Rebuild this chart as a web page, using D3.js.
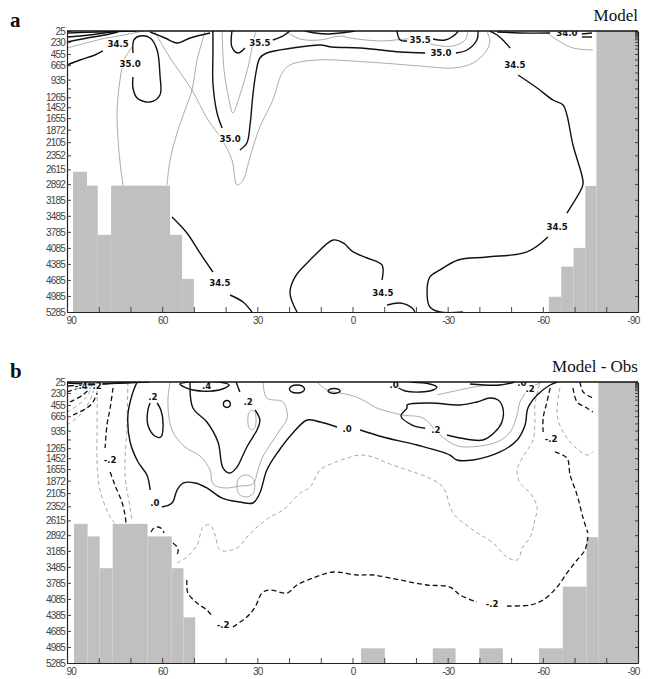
<!DOCTYPE html>
<html>
<head>
<meta charset="utf-8">
<script src="https://cdn.jsdelivr.net/npm/d3@7"></script>
<style>
	body { margin: 0; background: white; }
	#outer { width: 659px; height: 679px; }
</style>
</head>
<body>
<div id="outer"></div>
<script>
////////// DATA //////////
// depth axis (m), latitude axis (deg)
const depthLabels = [25, 230, 455, 665, 935, 1265, 1452, 1655, 1872, 2105, 2352, 2615, 2892, 3185, 3485, 3785, 4085, 4385, 4685, 4985, 5285];
const depthExtraTicks = [1100];
const rightTickDepths = [25, 45, 65, 85, 105, 125, 150, 180, 230, 290, 355, 455, 560, 665, 800, 935, 1100, 1265, 1452, 1655, 1872, 2105, 2352, 2615, 2892, 3185, 3485, 3785, 4085, 4385, 4685, 4985, 5285];
const latTicks = [90, 80, 70, 60, 50, 40, 30, 20, 10, 0, -10, -20, -30, -40, -50, -60, -70, -80, -90];
const latLabels = [90, 60, 30, 0, -30, -60, -90];

// topography columns: [lat from, lat to, depth of top]
const topoModel = [
	[88.1, 83.7, 2660], [83.7, 80.3, 2920], [80.3, 76.1, 3840], [76.1, 57.5, 2920], [57.5, 53.7, 3840], [53.7, 50.0, 4665],
	[-61.9, -65.8, 5000], [-65.8, -69.7, 4435], [-69.7, -73.4, 4085], [-73.4, -76.9, 2925], [-76.9, -90, 25]
];
const topoDiff = [
	[87.8, 83.5, 2680], [83.5, 79.7, 2915], [79.7, 75.6, 3510], [75.6, 64.6, 2680], [64.6, 57.0, 2915], [57.0, 53.3, 3510], [53.3, 49.6, 4430],
	[-2.7, -10.2, 5010], [-25.3, -32.5, 5010], [-40.0, -47.4, 5010], [-58.8, -66.3, 5010],
	[-66.3, -73.8, 3855], [-73.8, -77.5, 2930], [-77.5, -90, 25]
];

// panel a : salinity contours [lat, depth]
const modelBlack = [
	[[90, 62], [80, 44], [68, 25]],
	[[90, 137], [83, 100], [76, 44], [72, 25]],
	[[90, 231], [84, 160], [78, 100], [74, 44]],
	[[90, 661], [85.9, 568], [81.2, 474], [78.7, 399]],
	[[69.2, 437], [68.9, 193], [67.0, 119], [63.8, 156], [61.6, 381], [60.7, 849], [60.7, 1223], [63.8, 1354], [67.9, 1279], [69.2, 1092], [69.2, 886]],
	[[63.8, 44], [59.1, 156], [55.3, 250], [51.2, 156], [44.9, 62]],
	[[44.0, 25], [44.0, 474], [44.0, 998], [42.7, 1560], [41.1, 1841]],
	[[35.5, 2253], [33.3, 2122], [32.3, 1785], [31.4, 1223], [30.4, 793], [29.2, 530], [27.0, 437], [18.8, 343], [10.2, 287], [6.5, 325], [-2.4, 343], [-15.0, 418], [-22.9, 437]],
	[[-32.6, 437], [-36.1, 381], [-39.2, 193], [-39.6, 25]],
	[[38.0, 25], [38.0, 325], [36.1, 437], [33.9, 343]],
	[[25.1, 193], [22.0, 119], [19.7, 25]],
	[[15.0, 25], [11.8, 62], [8.0, 81], [3.9, 62], [-0.8, 25]],
	[[-14.0, 25], [-15.0, 193], [-17.2, 212]],
	[[-25.4, 175], [-29.2, 193], [-32.9, 62], [-33.3, 25]],
	[[-45.6, 44], [-52.8, 62], [-62.3, 62]],
	[[-72.3, 81], [-75.5, 62]],
	[[-72.3, 137], [-75.5, 137]],
	[[-43.3, 25], [-45.6, 100], [-47.4, 193], [-49.7, 343]],
	[[-52.2, 849], [-58.2, 1092], [-63.2, 1317], [-66.4, 1410], [-67.6, 1597], [-69.5, 2159], [-72.3, 2721], [-72.7, 2871], [-72.3, 2964], [-67.6, 3432]],
	[[-61.6, 3881], [-55.0, 4161], [-42.4, 4255], [-33.3, 4311], [-27.6, 4498], [-24.4, 4629], [-23.5, 4929], [-24.4, 5191], [-27.6, 5285], [-34.8, 5285]],
	[[56.9, 3507], [52.2, 3806], [48.1, 4180], [44.0, 4536]],
	[[38.6, 4967], [34.5, 5098], [31.7, 5285]],
	[[17.5, 5285], [19.7, 4929], [18.1, 4629], [14.3, 4367], [11.8, 4217], [6.1, 3937], [2.9, 3993], [-0.2, 4161], [-4.6, 4274], [-9.3, 4405], [-9.3, 4686]],
	[[-10.9, 5154], [-15.0, 5117], [-18.8, 5210], [-19.7, 5285]]
];
const modelGray = [
	[[90, 343], [84, 250], [78, 160], [72, 100], [66, 25]],
	[[62.3, 44], [57.5, 530], [50.6, 1130], [45.9, 1654], [41.1, 2065], [38.0, 2440], [36.4, 2908], [34.5, 2814], [32.3, 2384], [29.2, 1822], [25.1, 1317], [22.2, 811], [19.7, 661], [11.2, 568], [-4.6, 605], [-21.3, 680], [-31.7, 718], [-38.0, 624], [-42.4, 381], [-43.3, 193], [-42.4, 44]],
	[[46.5, 44], [49.0, 568], [50.6, 1130], [52.8, 1504], [55.3, 1934], [57.5, 2440], [58.5, 2908]],
	[[69.5, 325], [72.0, 568], [73.3, 942], [74.2, 1504], [73.9, 2065], [73.0, 2627], [72.3, 2927]],
	[[41.1, 25], [40.5, 755], [38.9, 1317], [37.7, 1560], [35.5, 1223], [32.9, 699], [31.4, 250], [30.4, 25]],
	[[21.3, 25], [16.5, 175], [10.2, 193], [3.9, 119], [0.8, 156], [-9.0, 212], [-19.7, 175], [-26.0, 287], [-31.7, 306], [-35.5, 193], [-36.4, 25]],
	[[-60.7, 25], [-64.5, 193], [-69.5, 343], [-75.8, 381]]
];
const modelLabels = [
	{ text: '34.5', lat: 73.9, depth: 268 }, { text: '35.0', lat: 70.1, depth: 643 },
	{ text: '35.5', lat: 29.2, depth: 250 }, { text: '35.0', lat: 38.6, depth: 2047 },
	{ text: '35.5', lat: -21.3, depth: 193 }, { text: '35.0', lat: -27.9, depth: 437 },
	{ text: '34.0', lat: -67.6, depth: 62 }, { text: '34.5', lat: -51.2, depth: 661 },
	{ text: '34.5', lat: -64.5, depth: 3694 }, { text: '34.5', lat: 41.8, depth: 4742 },
	{ text: '34.5', lat: -9.6, depth: 4929 }
];

// panel b : model - obs contours [lat, depth]
const diffBlack = [
	[[67.9, 25], [69.5, 268], [70.8, 643], [70.1, 1148], [67.6, 1523], [64.8, 1766], [63.8, 2047]],
	[[60.1, 2365], [56.9, 2290], [55.3, 2047], [53.4, 1916], [49.6, 1916], [45.9, 2009], [41.1, 2197], [35.5, 2271], [31.4, 2290], [29.2, 2103], [27.0, 1672], [23.5, 1335], [18.8, 980], [14.3, 736], [10.2, 774], [4.9, 867]],
	[[-2.4, 924], [-9.6, 1055], [-20.3, 1204], [-30.7, 1392], [-32.9, 1485], [-38.0, 1485], [-46.5, 1335], [-51.9, 1111], [-54.4, 830], [-55.3, 512], [-58.2, 268], [-62.3, 81], [-64.5, 25]],
	[[63.8, 418], [64.5, 549], [64.5, 830], [62.3, 1036], [60.4, 1055], [59.7, 830], [60.4, 549], [61.6, 418]],
	[[51.2, 25], [50.3, 512], [45.9, 774], [42.4, 1148], [40.8, 1635], [38.6, 1729], [36.4, 1616], [34.8, 1429], [33.3, 1242], [31.4, 1055], [30.1, 924], [29.2, 736], [30.7, 549]],
	[[35.5, 212], [36.7, 25]],
	[[54.4, 62], [50.3, 25], [42.0, 25], [38.9, 81], [42.0, 175], [50.3, 175], [54.4, 62]],
	[[40.7, 437], [40.4, 484], [39.6, 502], [38.8, 484], [38.5, 437], [38.8, 390], [39.6, 372], [40.4, 390], [40.7, 437]],
	[[19.9, 156], [19.2, 210], [17.5, 231], [15.8, 210], [15.1, 156], [15.8, 102], [17.5, 81], [19.2, 102], [19.9, 156]],
	[[7.7, 193], [7.1, 226], [5.8, 240], [4.5, 226], [3.9, 193], [4.5, 160], [5.8, 146], [7.1, 160], [7.7, 193]],
	[[-14.0, 119], [-16.6, 193], [-21.3, 212], [-25.4, 175], [-26.6, 119], [-24.4, 62], [-18.2, 25]],
	[[-37.0, 62], [-46.5, 81], [-51.2, 25]],
	[[-29.8, 1017], [-33.9, 1073], [-41.1, 1111], [-44.9, 961], [-47.1, 774], [-47.4, 512], [-45.9, 362], [-43.3, 325], [-39.2, 399], [-33.9, 456], [-24.4, 418], [-17.2, 456], [-17.2, 512], [-15.3, 661], [-18.8, 830], [-22.9, 890]],
	[[90, 44], [82, 62], [74, 44], [66, 25]],
	[[90, 100], [84, 81], [78, 62], [72, 44], [64, 25]]
];
const diffGray = [
	[[57.5, 25], [58.2, 399], [56.9, 924], [52.8, 1242], [48.1, 1410], [44.9, 1672], [44.0, 1934], [40.2, 2009], [35.5, 1972], [31.4, 1934], [29.8, 1672], [28.5, 1448], [26.0, 1204], [22.9, 924], [20.6, 699], [21.9, 399], [27.0, 325], [28.2, 25]],
	[[11.2, 25], [8.0, 175], [0.8, 268], [-3.3, 362], [-7.7, 512], [-15.9, 643], [-22.2, 699], [-27.6, 1017], [-32.3, 1204], [-36.1, 1242], [-45.6, 1148], [-49.7, 961], [-51.9, 643], [-52.8, 399], [-56.0, 137], [-60.1, 25]],
	[[-26.6, 268], [-32.3, 193], [-40.2, 100], [-46.5, 81], [-50.3, 25]],
	[[33.0, 736], [32.6, 880], [31.7, 920], [30.8, 880], [30.4, 736], [30.8, 592], [31.7, 552], [32.6, 592], [33.0, 736]],
	[[36.4, 1972], [35.8, 2120], [33.6, 2178], [31.4, 2120], [30.8, 1972], [31.4, 1824], [33.6, 1766], [35.8, 1824], [36.4, 1972]]
];
const diffBlackDash = [
	[[75.5, 137], [76.4, 512], [77.4, 830], [78.0, 1261]],
	[[76.4, 1710], [74.9, 1953], [72.7, 2271], [71.7, 2515], [71.4, 2665]],
	[[88.1, 643], [83.7, 512], [81.8, 399], [80.5, 231]],
	[[89.1, 399], [85.0, 268], [82.7, 137]],
	[[90, 212], [86.5, 137], [84.0, 44]],
	[[63.5, 2833], [62.6, 2758], [61.3, 2739], [60.1, 2777], [59.4, 2852]],
	[[56.6, 3039], [55.3, 3114], [55.0, 3208], [56.0, 3282]],
	[[52.2, 3732], [51.9, 3975], [49.0, 4162], [45.9, 4293], [44.0, 4424]],
	[[37.7, 4611], [33.3, 4424], [30.7, 4237], [28.5, 3975], [26.0, 3919], [20.6, 3975], [17.5, 3825], [12.4, 3694], [6.1, 3582], [-1.4, 3638], [-6.5, 3638], [-15.0, 3732], [-23.5, 3825], [-30.7, 3863], [-33.9, 4012], [-39.2, 4143]],
	[[-48.7, 4218], [-56.0, 4199], [-60.1, 4106], [-64.5, 3863], [-67.6, 3601], [-70.8, 3357], [-73.3, 3170], [-74.2, 2927]],
	[[-62.3, 137], [-61.3, 399], [-60.1, 699], [-60.1, 961]],
	[[-63.8, 1335], [-67.6, 1448], [-68.6, 1766], [-70.8, 2140], [-72.7, 2571], [-74.2, 2852]],
	[[-69.5, 137], [-70.8, 399], [-73.9, 512], [-75.8, 587]],
	[[-71.7, 25], [-72.7, 212], [-75.8, 325]]
];
const diffGrayDash = [
	[[80.5, 175], [80.5, 830], [80.5, 1541], [79.6, 2047], [76.4, 2552], [74.9, 2665]],
	[[70.8, 25], [71.1, 830], [71.7, 1766], [70.1, 2384], [69.5, 2646]],
	[[90, 830], [85.9, 643], [82.7, 362], [81.2, 81]],
	[[90, 587], [86.5, 456], [83.4, 268], [82.1, 62]],
	[[55.3, 3413], [52.2, 3301], [49.0, 3076], [47.1, 2739], [44.9, 2702], [43.3, 2889], [41.8, 3170], [36.4, 3133], [33.3, 2927], [30.1, 2739], [26.0, 2552], [21.9, 2421], [16.5, 2103], [13.4, 1991], [10.2, 1672], [6.1, 1541], [1.7, 1448], [-2.4, 1392], [-6.5, 1429], [-10.9, 1541], [-17.2, 1672], [-23.5, 1803], [-28.5, 1991], [-31.7, 2477], [-38.0, 2796], [-44.3, 3039], [-48.7, 3301], [-51.9, 3357], [-53.7, 3114], [-56.0, 2927], [-57.5, 2608], [-58.2, 2365], [-56.0, 2103], [-52.8, 1916], [-51.9, 1672], [-53.7, 1429], [-56.9, 1111], [-57.5, 793], [-57.5, 456], [-58.5, 175], [-59.1, 25]],
	[[-65.4, 137], [-64.5, 643], [-66.4, 961], [-69.5, 1204], [-73.9, 1392], [-75.8, 1335]]
];
const diffLabels = [
	{ text: '-.4', lat: 85.5, depth: 90 }, { text: '.2', lat: 80.5, depth: 100 },
	{ text: '.2', lat: 62.9, depth: 300 }, { text: '-.2', lat: 76.4, depth: 1485 },
	{ text: '.0', lat: 62.3, depth: 2290 }, { text: '.4', lat: 46.0, depth: 100 },
	{ text: '.2', lat: 32.9, depth: 400 }, { text: '.0', lat: 1.7, depth: 905 },
	{ text: '.0', lat: -13.1, depth: 81 }, { text: '.2', lat: -26.3, depth: 924 },
	{ text: '.0', lat: -53.4, depth: 44 }, { text: '.2', lat: -56.0, depth: 156 },
	{ text: '-.2', lat: -62.6, depth: 1092 }, { text: '-.2', lat: 40.8, depth: 4574 },
	{ text: '-.2', lat: -44.0, depth: 4181 }
];

function drawChart () {
	////////// Hard Coded Defs //////////
	const width = 659, height = 679;
	const plotLeft = 67, plotRight = 638, plotHeight = 281;
	const topoColor = 'rgb(192,192,192)';
	const tickFont = '10px "Liberation Sans", Arial, sans-serif';
	const contourStyles = {
		black: { stroke: '#111', width: 1.4, dash: null },
		gray: { stroke: '#a2a2a2', width: 0.9, dash: null },
		blackDash: { stroke: '#111', width: 1.3, dash: '5,3' },
		grayDash: { stroke: '#a8a8a8', width: 1, dash: '4,3' }
	};

	const svg = d3.select('#outer').append('svg')
		.attr('width', width)
		.attr('height', height)
		.style('background', 'white');

	const x = d3.scaleLinear().domain([90, -90]).range([plotLeft, plotRight]);

	const renderPanel = (panel, idx) => {
		const top = panel.top;
		const y = d3.scaleLinear().domain([25, 5285]).range([top, top + plotHeight]);
		const g = svg.append('g').attr('class', 'panel' + idx);

		// clip
		const clipId = 'clip' + idx;
		svg.append('clipPath').attr('id', clipId)
			.append('rect')
			.attr('x', plotLeft).attr('y', top)
			.attr('width', plotRight - plotLeft).attr('height', plotHeight);

		const inner = g.append('g').attr('clip-path', `url(#${clipId})`);

		// topography
		inner.selectAll('rect.topo')
			.data(panel.topo)
			.join('rect')
			.attr('class', 'topo')
			.attr('x', d => x(d[0]))
			.attr('width', d => x(d[1]) - x(d[0]))
			.attr('y', d => y(d[2]))
			.attr('height', d => y(5285) - y(d[2]) + 1)
			.attr('fill', topoColor);

		// contours
		const line = d3.line().x(d => x(d[0])).y(d => y(d[1])).curve(d3.curveCatmullRom.alpha(0.5));
		const closedLine = d3.line().x(d => x(d[0])).y(d => y(d[1])).curve(d3.curveCatmullRomClosed.alpha(0.5));
		const isClosed = pts => pts.length > 3 && pts[0][0] === pts[pts.length - 1][0] && pts[0][1] === pts[pts.length - 1][1];

		panel.lines.forEach(set => {
			const st = contourStyles[set.kind];
			inner.append('g')
				.selectAll('path')
				.data(set.data)
				.join('path')
				.attr('d', d => isClosed(d) ? closedLine(d.slice(0, -1)) : line(d))
				.attr('fill', 'none')
				.attr('stroke', st.stroke)
				.attr('stroke-width', st.width)
				.attr('stroke-dasharray', st.dash)
				.attr('stroke-linejoin', 'round');
		});

		// contour labels
		inner.selectAll('text.clabel')
			.data(panel.labels)
			.join('text')
			.attr('class', 'clabel')
			.attr('x', d => x(d.lat))
			.attr('y', d => y(d.depth))
			.attr('dy', '0.36em')
			.attr('text-anchor', 'middle')
			.style('font', 'bold 8.6px "DejaVu Sans", sans-serif')
			.style('paint-order', 'stroke')
			.attr('stroke', 'white')
			.attr('stroke-width', 2.5)
			.attr('fill', '#111')
			.text(d => d.text);

		// axes
		const leftAxis = d3.axisLeft(y)
			.tickValues(depthLabels.concat(depthExtraTicks))
			.tickFormat(d => depthLabels.includes(d) ? d : '')
			.tickSizeInner(-4)
			.tickSizeOuter(0)
			.tickPadding(2);
		const gl = g.append('g').attr('transform', `translate(${plotLeft},0)`).call(leftAxis);

		const rightAxis = d3.axisRight(y)
			.tickValues(rightTickDepths)
			.tickFormat('')
			.tickSizeInner(-3)
			.tickSizeOuter(0);
		const gr = g.append('g').attr('transform', `translate(${plotRight},0)`).call(rightAxis);

		const bottomAxis = d3.axisBottom(x)
			.tickValues(latTicks)
			.tickFormat(d => latLabels.includes(d) ? d : '')
			.tickSizeInner(-5)
			.tickSizeOuter(0)
			.tickPadding(5);
		const gb = g.append('g').attr('transform', `translate(0,${top + plotHeight})`).call(bottomAxis);

		[gl, gr, gb].forEach(a => {
			a.select('.domain').attr('stroke', '#222').attr('stroke-width', 1.2);
			a.selectAll('.tick line').attr('stroke', '#333').attr('stroke-width', 0.9);
			a.selectAll('text').style('font', tickFont).style('letter-spacing', '-0.8px').attr('fill', '#444');
		});
		gl.selectAll('text').attr('dy', '0.36em');
		gb.selectAll('.tick text')
			.attr('text-anchor', d => d === 90 ? 'start' : d === -90 ? 'end' : 'middle')
			.attr('dx', d => d === 90 ? -1 : d === -90 ? 1 : 0);

		// top border
		g.append('line')
			.attr('x1', plotLeft).attr('x2', plotRight)
			.attr('y1', top).attr('y2', top)
			.attr('stroke', '#111').attr('stroke-width', 1.6);

		// titles
		g.append('text')
			.attr('x', 10).attr('y', top - 4)
			.style('font', 'bold 21px "Liberation Serif", "Times New Roman", serif')
			.attr('fill', '#111')
			.text(panel.letter);
		g.append('text')
			.attr('x', plotRight).attr('y', top - 10)
			.attr('text-anchor', 'end')
			.style('font', '17px "Liberation Serif", "Times New Roman", serif')
			.attr('fill', '#111')
			.text(panel.title);
	};

	const panels = [
		{
			top: 31, letter: 'a', title: 'Model', topo: topoModel, labels: modelLabels,
			lines: [{ kind: 'gray', data: modelGray }, { kind: 'black', data: modelBlack }]
		},
		{
			top: 382, letter: 'b', title: 'Model - Obs', topo: topoDiff, labels: diffLabels,
			lines: [
				{ kind: 'gray', data: diffGray }, { kind: 'grayDash', data: diffGrayDash },
				{ kind: 'black', data: diffBlack }, { kind: 'blackDash', data: diffBlackDash }
			]
		}
	];
	panels.forEach(renderPanel);
}

drawChart();
</script>
</body>
</html>
